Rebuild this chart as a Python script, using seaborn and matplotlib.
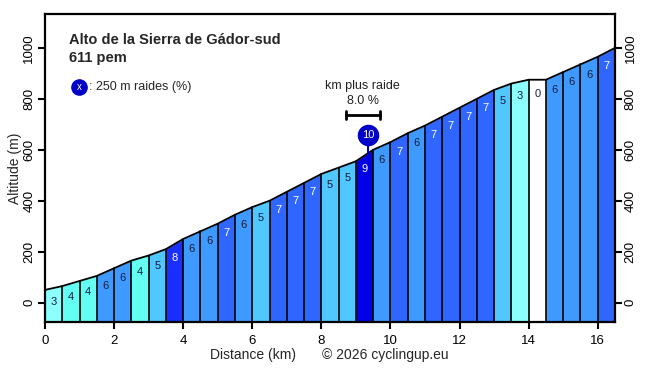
import matplotlib
matplotlib.use("Agg")
import matplotlib.pyplot as plt
import seaborn as sns
import numpy as np
import pandas as pd

# ---- data ----
km = [0.0, 0.5, 1.0, 1.5, 2.0, 2.5, 3.0, 3.5, 4.0, 4.5, 5.0, 5.5, 6.0, 6.5, 7.0,
      7.5, 8.0, 8.5, 9.0, 9.5, 10.0, 10.5, 11.0, 11.5, 12.0, 12.5, 13.0, 13.5,
      14.0, 14.5, 15.0, 15.5, 16.0, 16.5]
altitude = [50, 65, 85, 105, 135, 165, 185, 210, 250, 280, 310, 345, 375, 400, 435,
            470, 505, 530, 555, 600, 630, 665, 695, 730, 765, 800, 835, 860,
            875, 875, 905, 935, 965, 1000]
gradient = [3, 4, 4, 6, 6, 4, 5, 8, 6, 6, 7, 6, 5, 7, 7, 7, 5, 5,
            9, 6, 7, 6, 7, 7, 7, 7, 5, 3, 0, 6, 6, 6, 7]
xticks = [0, 2, 4, 6, 8, 10, 12, 14, 16]
yticks = [0, 200, 400, 600, 800, 1000]
title = "Alto de la Sierra de Gádor-sud"
subtitle = "611 pem"
steep250_km = 9.35
steep250_val = 10
steep1k_start = 8.7
steep1k_end = 9.7
steep1k_val = 8.0

palette = {0: "#FFFFFF", 1: "#FFFFFF", 2: "#B4FFFF", 3: "#8CFFFF", 4: "#62FFF2",
           5: "#50C8FF", 6: "#3F9AFF", 7: "#2E66FF", 8: "#1A2EFF", 9: "#0000E6",
           10: "#0000C8"}

sns.set_theme(style="white")
plt.rcParams['font.family'] = ['Liberation Sans', 'DejaVu Sans']

fig = plt.figure(figsize=(6.56, 3.68), dpi=100)
ax = fig.add_axes([45/656, 46/368, 570/656, 308/368])

ymin, ymax = -76, 1133
ax.set_xlim(0, 16.5)
ax.set_ylim(ymin, ymax)

# segments
for i, g in enumerate(gradient):
    x0, x1 = km[i], km[i + 1]
    a0, a1 = altitude[i], altitude[i + 1]
    ax.fill_between([x0, x1], [a0, a1], ymin, color=palette[g], linewidth=0, zorder=1)
    ax.plot([x0, x0], [ymin, a0], color="black", lw=1.2, zorder=2)
    tc = "white" if g >= 7 else "#1a1a3a"
    ax.annotate(str(g), xy=((x0 + x1) / 2, (a0 + a1) / 2), xytext=(0, -10),
                textcoords="offset points", ha="center", va="center",
                fontsize=8, color=tc, zorder=3)

df = pd.DataFrame({"km": km, "alt": altitude})
sns.lineplot(data=df, x="km", y="alt", color="black", lw=1.3, ax=ax, zorder=4)
ax.set_xlabel("")
ax.set_ylabel("Altitude (m)", fontsize=10)
ax.yaxis.set_label_coords(-0.040, 0.5)

# steepest 250 m marker
alt_at = np.interp(steep250_km, km, altitude)
ax.plot([steep250_km, steep250_km], [alt_at, alt_at + 45], color="#0000C8", lw=1.5, zorder=5)
ax.scatter([steep250_km], [alt_at + 72], s=210, color="#0000C8", zorder=6)
ax.text(steep250_km, alt_at + 72, str(steep250_val), color="white", ha="center",
        va="center", fontsize=8, zorder=7)

# steepest km
mid = (steep1k_start + steep1k_end) / 2
ax.text(mid, 850, "km plus raide", ha="center", va="center", fontsize=9, color="#222222")
ax.text(mid, 792, f"{steep1k_val:.1f} %", ha="center", va="center", fontsize=9, color="#222222")
ax.plot([steep1k_start, steep1k_end], [737, 737], color="black", lw=2)
ax.plot([steep1k_start, steep1k_start], [722, 752], color="black", lw=2)
ax.plot([steep1k_end, steep1k_end], [722, 752], color="black", lw=2)

# title
ax.text(0.7, 1031, title, fontsize=10.5, fontweight="bold", va="center", ha="left")
ax.text(0.7, 960, subtitle, fontsize=10.5, fontweight="bold", va="center", ha="left")

# legend
ax.scatter([0.98], [845], s=120, color="#0000C8", zorder=6)
ax.text(0.98, 845, "x", color="white", ha="center", va="center", fontsize=7, zorder=7)
ax.text(1.28, 845, ": 250 m raides (%)", ha="left", va="center", fontsize=9)

# axes styling
ax.set_xticks(xticks)
ax.set_yticks(yticks)
ax.tick_params(axis="both", direction="out", length=5, width=1.5, labelsize=9.5,
               colors="black")
ax.tick_params(axis="y", left=True, right=True, labelleft=True, labelright=True,
               labelrotation=90, pad=2)
ax.tick_params(axis="x", bottom=True, pad=4)
for t in ax.yaxis.get_major_ticks():
    t.label2.set_va("center")
    t.label1.set_va("center")
for s in ax.spines.values():
    s.set_linewidth(1.6)
    s.set_color("black")
    s.set_zorder(10)

fig.text(253/656, 1 - 355/368, "Distance (km)", ha="center", va="center", fontsize=10)
fig.text(385/656, 1 - 355/368, "© 2026 cyclingup.eu", ha="center", va="center", fontsize=10)

fig.savefig("out.png", dpi=100)
